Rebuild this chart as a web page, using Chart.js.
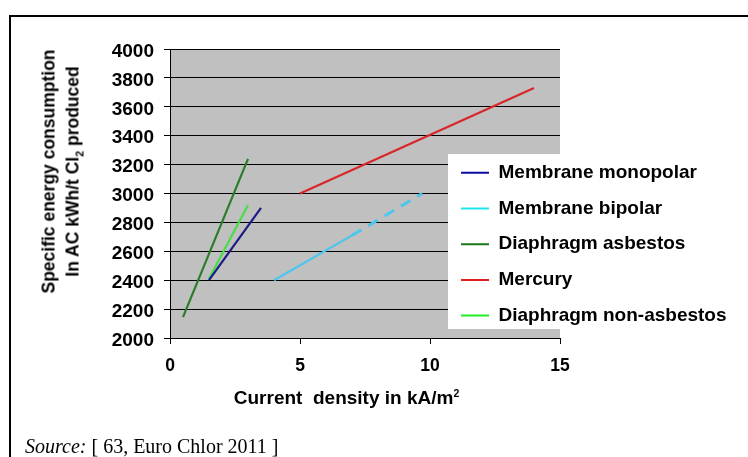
<!DOCTYPE html>
<html>
<head>
<meta charset="utf-8">
<script src="https://cdn.jsdelivr.net/npm/chart.js@4"></script>
<style>
html,body{margin:0;padding:0;background:#fff;}
#wrap{position:relative;width:748px;height:457px;overflow:hidden;background:#fff;}
#frame{position:absolute;left:9px;top:15px;width:780px;height:480px;border-top:2px solid #000;border-left:2px solid #000;box-sizing:border-box;}
#c{position:absolute;left:0;top:0;}
#src{position:absolute;left:25px;top:436px;font:20px/20px "Liberation Serif","Times New Roman",serif;color:#000;white-space:pre;}
#xt{position:absolute;left:346.5px;top:388px;transform:translateX(-50%);font:bold 19px/19px "Liberation Sans",Arial,sans-serif;color:#000;white-space:pre;}
#xt sup{font-size:55%;line-height:0;vertical-align:super;}
#yt{position:absolute;left:-88.8px;top:147.7px;width:300px;height:47px;transform:rotate(-90deg);text-align:center;font:bold 17.5px/23.5px "Liberation Sans",Arial,sans-serif;color:#000;white-space:pre;}
#yt sub{font-size:60%;line-height:0;vertical-align:sub;}
</style>
</head>
<body>
<div id="wrap">
  <div id="frame"></div>
  <canvas id="c" width="748" height="457"></canvas>
  <div id="yt">Specific energy consumption<br>In AC kWh/t Cl<sub>2</sub> produced</div>
  <div id="xt">Current  density in kA/m<sup>2</sup></div>
  <div id="src"><i>Source:</i> [ 63, Euro Chlor 2011 ]</div>
</div>
<script>
// ---- data ----
const seriesNames = ['Membrane monopolar', 'Membrane bipolar', 'Diaphragm asbestos', 'Mercury', 'Diaphragm non-asbestos'];
const monopolarX = [1.5, 3.5];
const monopolarY = [2400, 2900];
const bipolarX = [4.0, 7.0, 9.7];
const bipolarY = [2400, 2710, 3000];
const bipolarDashFromIndex = 1;      // segment after this point is dashed
const asbestosX = [0.5, 3.0];
const asbestosY = [2145, 3240];
const mercuryX = [5.0, 14.0];
const mercuryY = [3000, 3730];
const nonAsbestosX = [1.5, 3.0];
const nonAsbestosY = [2410, 2920];
const xTicks = [0, 5, 10, 15];
const yTicks = [2000, 2200, 2400, 2600, 2800, 3000, 3200, 3400, 3600, 3800, 4000];

// ---- styles ----
const lineColors = ['#1c1c86', '#4cc6ec', '#2a7d2a', '#d8262a', '#48dc48'];
const legendColors = ['#0a0aa0', '#1ee6ee', '#1a7a1a', '#e02020', '#22ee22'];

function pts(xs, ys) { return xs.map((x, i) => ({x: x, y: ys[i]})); }
const seriesData = [
  pts(monopolarX, monopolarY),
  pts(bipolarX, bipolarY),
  pts(asbestosX, asbestosY),
  pts(mercuryX, mercuryY),
  pts(nonAsbestosX, nonAsbestosY)
];

const datasets = seriesData.map((d, i) => {
  const ds = {
    label: seriesNames[i],
    data: d,
    borderColor: lineColors[i],
    backgroundColor: lineColors[i],
    borderWidth: 2.2,
    pointRadius: 0,
    tension: 0,
    fill: false
  };
  if (i === 1) {
    ds.segment = {
      borderDash: ctx => ctx.p0DataIndex >= bipolarDashFromIndex ? [11, 8] : undefined,
      borderWidth: ctx => ctx.p0DataIndex >= bipolarDashFromIndex ? 3 : 2.2
    };
  }
  return ds;
});

const plotBg = {
  id: 'plotBg',
  beforeDraw(chart) {
    const {ctx, chartArea: a} = chart;
    ctx.save();
    ctx.fillStyle = '#c0c0c0';
    ctx.fillRect(a.left, a.top, a.right - a.left, a.bottom - a.top);
    ctx.restore();
  }
};

const legendPlace = {
  id: 'legendPlace',
  beforeLayout(chart) {
    const lg = chart.legend;
    if (lg && !lg._wrapped) {
      lg._wrapped = true;
      lg._layers = function () {
        return [{
          z: 0,
          draw(area) {
            const ctx = chart.ctx;
            ctx.save();
            ctx.fillStyle = '#ffffff';
            ctx.fillRect(448, 154, 300, 175);
            ctx.restore();
            lg.draw(area);
          }
        }];
      };
    }
  },
  afterLayout(chart) {
    const lg = chart.legend;
    lg.left = 444.3; lg.top = 146.6; lg.right = 748; lg.bottom = 440;
    lg.width = lg.right - lg.left; lg.height = lg.bottom - lg.top;
  }
};

new Chart(document.getElementById('c'), {
  type: 'line',
  data: {datasets: datasets},
  options: {
    responsive: false,
    animation: false,
    devicePixelRatio: 1,
    layout: {padding: {left: 0, right: 188, top: 49, bottom: 59}},
    plugins: {
      title: {display: false},
      tooltip: {enabled: false},
      legend: {
        display: true,
        position: 'chartArea',
        align: 'start',
        labels: {
          boxWidth: 28,
          boxHeight: 2,
          padding: 16.7,
          color: '#000',
          font: {family: '"Liberation Sans", Arial, sans-serif', size: 19, weight: 'bold'},
          generateLabels(chart) {
            return chart.data.datasets.map((ds, i) => ({
              text: ds.label,
              fillStyle: legendColors[i],
              strokeStyle: legendColors[i],
              lineWidth: 0,
              hidden: false,
              datasetIndex: i,
              fontColor: '#000'
            }));
          }
        }
      }
    },
    scales: {
      x: {
        type: 'linear',
        min: xTicks[0],
        max: xTicks[xTicks.length - 1],
        afterFit(s) { s.height = 60; },
        afterBuildTicks(s) { s.ticks = xTicks.map(v => ({value: v})); },
        grid: {drawOnChartArea: false, drawTicks: true, tickLength: 6, color: '#000', lineWidth: 1},
        border: {display: true, color: '#000', width: 1},
        ticks: {color: '#000', padding: 12, maxRotation: 0, callback: v => String(v),
                font: {family: '"Liberation Sans", Arial, sans-serif', size: 17.5, weight: 'bold'}},
        title: {display: false}
      },
      y: {
        type: 'linear',
        min: yTicks[0],
        max: yTicks[yTicks.length - 1],
        afterFit(s) { s.width = 170; },
        afterBuildTicks(s) { s.ticks = yTicks.map(v => ({value: v})); },
        grid: {drawOnChartArea: true, drawTicks: true, tickLength: 6, color: '#000', lineWidth: 1},
        border: {display: true, color: '#000', width: 1},
        ticks: {color: '#000', padding: 10, labelOffset: 2.5, callback: v => String(v),
                font: {family: '"Liberation Sans", Arial, sans-serif', size: 19, weight: 'bold'}},
        title: {display: false}
      }
    }
  },
  plugins: [plotBg, legendPlace]
});
</script>
</body>
</html>
